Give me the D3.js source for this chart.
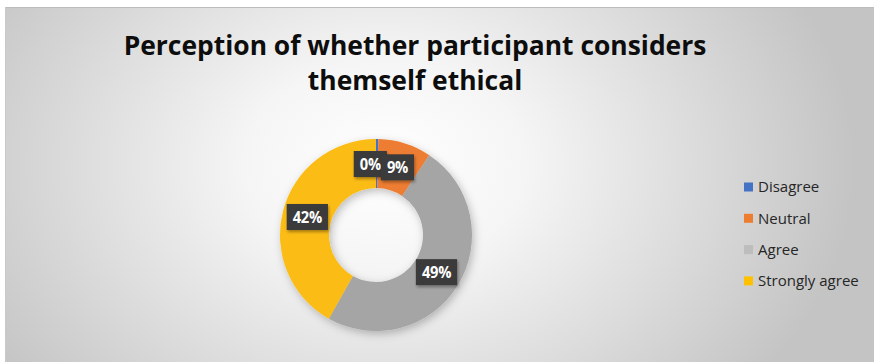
<!DOCTYPE html>
<html>
<head>
<meta charset="utf-8">
<script src="https://d3js.org/d3.v7.min.js"></script>
<style>
  html, body { margin: 0; padding: 0; background: #fff; }
  svg { display: block; }
</style>
</head>
<body>
<div id="chart"></div>
<script>
// Data
const categories = ["Disagree", "Neutral", "Agree", "Strongly agree"];
const values = [0.4, 9, 49, 42];
const colors = ["#4472C4", "#ED7D31", "#A5A5A5", "#FBBC14"];
const legendColors = ["#4472C4", "#ED7D31", "#BDBDBD", "#FFC000"];
const titleLines = ["Perception of whether participant considers", "themself ethical"];

const width = 874, height = 362;

const svg = d3.select('#chart')
  .append('svg')
  .attr('width', width)
  .attr('height', height);

const defs = svg.append('defs');

// background gradient - lighter in the middle, grey at the edges
const bg = defs.append('radialGradient')
  .attr('id', 'bgGrad')
  .attr('gradientUnits', 'userSpaceOnUse')
  .attr('cx', 385).attr('cy', 165).attr('r', 470)
  .attr('gradientTransform', 'translate(385,165) scale(1,0.75) translate(-385,-165)');
bg.append('stop').attr('offset', '0%').attr('stop-color', '#ffffff');
bg.append('stop').attr('offset', '30%').attr('stop-color', '#f5f5f5');
bg.append('stop').attr('offset', '100%').attr('stop-color', '#c4c4c4');

const shadow = defs.append('filter').attr('id', 'shadow')
  .attr('x', '-30%').attr('y', '-30%').attr('width', '160%').attr('height', '160%');
shadow.append('feDropShadow')
  .attr('dx', 2).attr('dy', 3).attr('stdDeviation', 4)
  .attr('flood-color', '#000').attr('flood-opacity', 0.25);

const lblShadow = defs.append('filter').attr('id', 'lblShadow')
  .attr('x', '-30%').attr('y', '-30%').attr('width', '160%').attr('height', '160%');
lblShadow.append('feDropShadow')
  .attr('dx', 1).attr('dy', 2).attr('stdDeviation', 1.5)
  .attr('flood-color', '#000').attr('flood-opacity', 0.35);

svg.append('rect')
  .attr('x', 5).attr('y', 7)
  .attr('width', width - 5).attr('height', height - 7)
  .attr('fill', 'url(#bgGrad)');
svg.append('line')
  .attr('x1', 5).attr('x2', width).attr('y1', 7.5).attr('y2', 7.5)
  .style('stroke', '#bdbdbd');
svg.append('line')
  .attr('x1', 5.5).attr('x2', 5.5).attr('y1', 7).attr('y2', height)
  .style('stroke', '#c9c9c9');

// Title - Calibri-like: tall but narrow, so squeeze Open Sans horizontally
const titleG = svg.append('g');
const title = titleG.append('text')
  .attr('text-anchor', 'middle')
  .style('font-family', 'Open Sans, sans-serif')
  .style('font-weight', 'bold')
  .style('font-size', '26px')
  .style('fill', '#0d0d0d');
title.selectAll('tspan')
  .data(titleLines)
  .enter()
  .append('tspan')
  .attr('x', 0)
  .attr('y', (d, i) => 55 + i * 35)
  .text(d => d);

const firstLen = title.select('tspan').node().getComputedTextLength();
const sx = 583 / firstLen;
titleG.attr('transform', `translate(415,0) scale(${sx},1)`);

// Donut
const cx = 376, cy = 235;
const outerR = 96, innerR = 47;

const pie = d3.pie().sort(null).value(d => d);
const arcs = pie(values);
const arc = d3.arc().innerRadius(innerR).outerRadius(outerR);
const labelArc = d3.arc().innerRadius(71).outerRadius(71);
const total = d3.sum(values);
const pct = d => Math.round(d.value / total * 100) + '%';

const g = svg.append('g')
  .attr('transform', `translate(${cx},${cy})`);

const slices = g.append('g').attr('filter', 'url(#shadow)');
slices.selectAll('path')
  .data(arcs)
  .enter()
  .append('path')
  .attr('d', arc)
  .style('fill', (d, i) => colors[i]);

// labels
const labels = g.selectAll('.lbl')
  .data(arcs)
  .enter()
  .append('g')
  .attr('class', 'lbl');

labels.append('rect')
  .style('fill', '#3a3a3a')
  .attr('filter', 'url(#lblShadow)');

const lblText = labels.append('text')
  .attr('text-anchor', 'middle')
  .attr('dy', '0.36em')
  .attr('transform', 'scale(0.92,1)')
  .style('font-family', 'Open Sans, sans-serif')
  .style('font-weight', 'bold')
  .style('font-size', '16px')
  .style('letter-spacing', '-0.3px')
  .style('fill', '#fff')
  .text(pct);

// box sizes and positions; a label that collides with the next one is pushed left
const boxes = [];
lblText.each(function(d) {
  const w = this.getComputedTextLength() * 0.92;
  const c = labelArc.centroid(d);
  boxes.push({ x: c[0], y: c[1], w: w });
});
for (let i = 0; i < boxes.length - 1; i++) {
  const a = boxes[i], b = boxes[i + 1];
  const textRight = a.x + a.w / 2;
  const nextLeft = b.x - b.w / 2 - 6;
  if (Math.abs(a.y - b.y) < 26 && textRight > nextLeft) {
    a.x -= textRight - nextLeft;
  }
}
labels.attr('transform', (d, i) => `translate(${boxes[i].x},${boxes[i].y})`);
labels.select('rect')
  .attr('x', (d, i) => -boxes[i].w / 2 - 6)
  .attr('y', -13)
  .attr('width', (d, i) => boxes[i].w + 12)
  .attr('height', 26);

// Legend
const legend = svg.append('g')
  .attr('transform', 'translate(744,187)');
const items = legend.selectAll('g')
  .data(categories)
  .enter()
  .append('g')
  .attr('transform', (d, i) => `translate(0,${i * 31.3})`);
items.append('rect')
  .attr('x', 0).attr('y', -4.5)
  .attr('width', 9).attr('height', 9)
  .style('fill', (d, i) => legendColors[i]);
items.append('text')
  .attr('x', 14)
  .attr('dy', '0.35em')
  .style('font-family', 'Open Sans, sans-serif')
  .style('font-size', '15px')
  .style('fill', '#262626')
  .text(d => d);
</script>
</body>
</html>
